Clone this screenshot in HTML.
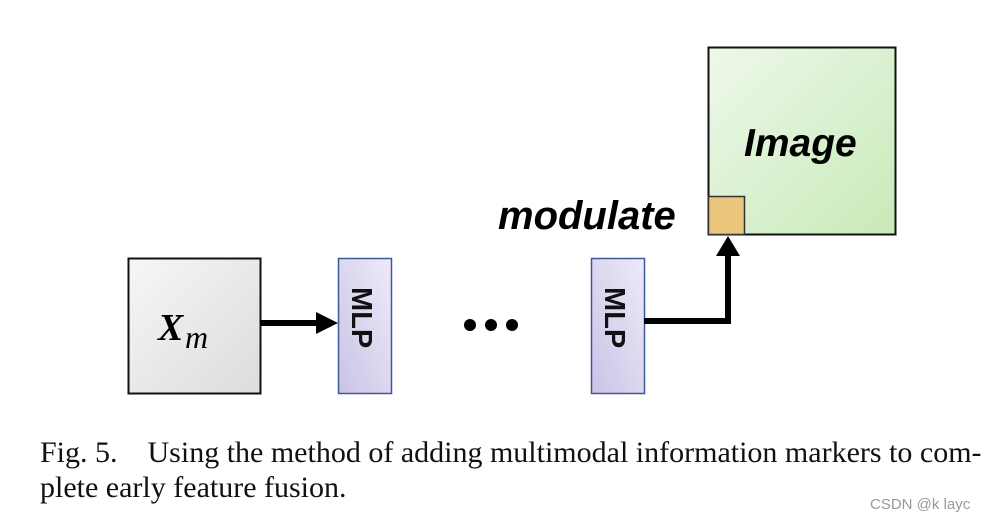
<!DOCTYPE html>
<html><head><style>
body{margin:0;background:#fff;width:994px;height:524px;overflow:hidden;position:relative;font-family:"Liberation Sans",sans-serif}
.a{position:absolute}
.cap{position:absolute;left:40px;font-family:"Liberation Serif",serif;font-size:30px;color:#111;white-space:nowrap}
</style></head><body>
<svg class="a" style="left:0;top:0" width="994" height="524">
<defs>
<linearGradient id="g1" x1="0" y1="0" x2="1" y2="1"><stop offset="0" stop-color="#f6f6f6"/><stop offset="1" stop-color="#dcdcdc"/></linearGradient>
<linearGradient id="g2" x1="1" y1="0" x2="0" y2="1"><stop offset="0" stop-color="#eeeaf8"/><stop offset="1" stop-color="#cbc3e6"/></linearGradient>
<linearGradient id="g3" x1="0" y1="0" x2="1" y2="1"><stop offset="0" stop-color="#eef8ea"/><stop offset="1" stop-color="#c8eab8"/></linearGradient>
</defs>
<rect x="128.5" y="258.5" width="132" height="135" fill="url(#g1)" stroke="#111" stroke-width="2"/>
<text x="158" y="340" font-family="Liberation Serif,serif" font-weight="bold" font-style="italic" font-size="38">X</text>
<text x="185" y="348" font-family="Liberation Serif,serif" font-style="italic" font-size="32">m</text>
<rect x="338.5" y="258.5" width="53" height="135" fill="url(#g2)" stroke="#3c5a9a" stroke-width="1.5"/>
<rect x="591.5" y="258.5" width="53" height="135" fill="url(#g2)" stroke="#3c5a9a" stroke-width="1.5"/>
<text transform="translate(352,287) rotate(90)" font-size="29" font-weight="bold" fill="#111">MLP</text>
<text transform="translate(605,287) rotate(90)" font-size="29" font-weight="bold" fill="#111">MLP</text>
<line x1="260" y1="323" x2="318" y2="323" stroke="#000" stroke-width="6"/>
<polygon points="316,312 338,323 316,334" fill="#000"/>
<circle cx="470" cy="325" r="6" fill="#000"/><circle cx="491" cy="325" r="6" fill="#000"/><circle cx="512" cy="325" r="6" fill="#000"/>
<rect x="708.5" y="47.5" width="187" height="187" fill="url(#g3)" stroke="#111" stroke-width="2"/>
<rect x="708.5" y="196.5" width="36" height="38" fill="#eac67c" stroke="#333" stroke-width="1.5"/>
<text x="744" y="156" font-size="39" font-weight="bold" font-style="italic" fill="#000">Image</text>
<text x="498" y="229" font-size="40" font-weight="bold" font-style="italic" fill="#000">modulate</text>
<polyline points="644,321 728,321 728,254" fill="none" stroke="#000" stroke-width="6"/>
<polygon points="716,256 728,236 740,256" fill="#000"/>
</svg>
<div class="cap" style="top:436px">Fig. 5.&nbsp;&nbsp;&nbsp;&nbsp;Using the method of adding multimodal information markers to com-</div>
<div class="cap" style="top:471px">plete early feature fusion.</div>
<div class="a" style="left:870px;top:496px;font-size:15px;color:#999">CSDN @k layc</div>
</body></html>
